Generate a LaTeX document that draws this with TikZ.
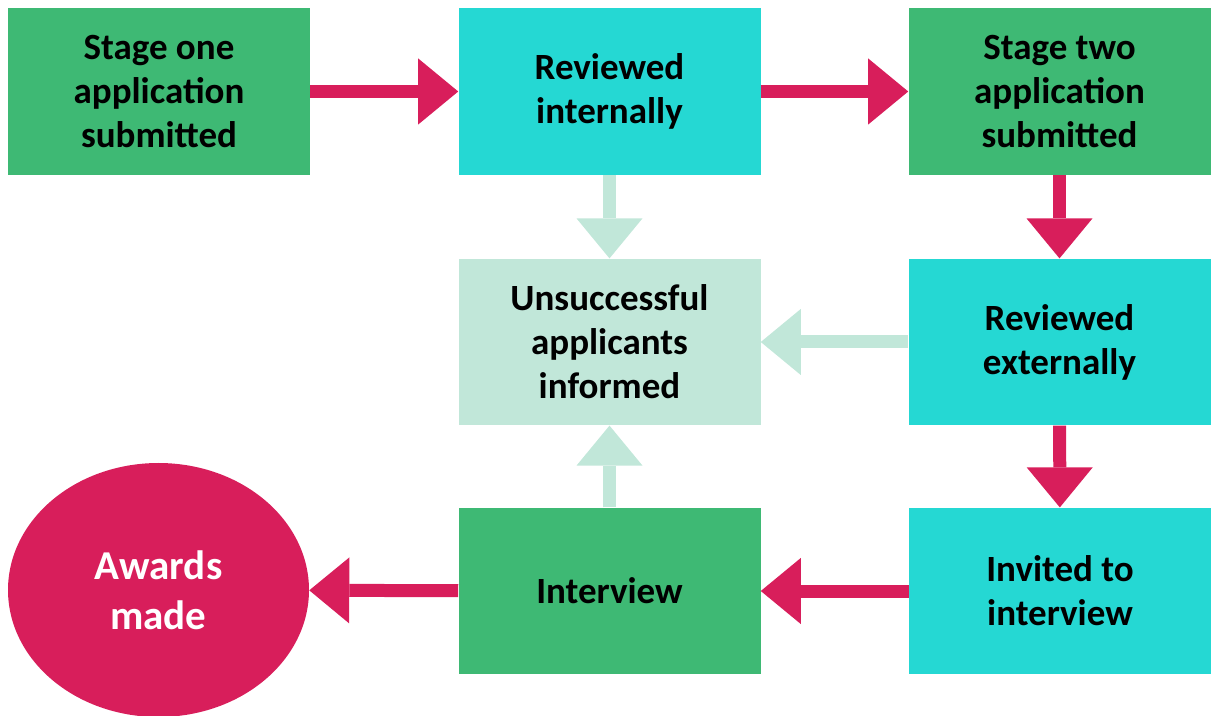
\documentclass[tikz,border=0pt]{standalone}
\usepackage{fontspec}
\setmainfont{Carlito}
\usetikzlibrary{arrows.meta,shapes.geometric}
\definecolor{stagegreen}{HTML}{3EB974}
\definecolor{reviewcyan}{HTML}{25D8D3}
\definecolor{palegreen}{HTML}{C1E7D9}
\definecolor{awardred}{HTML}{D81E5B}
\begin{document}
\begin{tikzpicture}[x=0.75pt,y=-0.75pt,
  box/.style={minimum width=226.5pt,minimum height=125pt,inner sep=0pt,
    align=center,font=\fontsize{27.75pt}{33pt}\selectfont\bfseries},
  flow/.style={line width=9.75pt,draw=awardred,
    -{Triangle[width=49.5pt,length=30pt,line width=0pt]}},
  fail/.style={flow,draw=palegreen}]
  \useasboundingbox (0,0) rectangle (1211,716);
  % top row
  \node[box,fill=stagegreen] (stageone) at (159,91.5) {Stage one\\application\\submitted};
  \node[box,fill=reviewcyan] (internal) at (609.5,91.5) {Reviewed\\internally};
  \node[box,fill=stagegreen] (stagetwo) at (1059.5,91.5) {Stage two\\application\\submitted};
  % middle row
  \node[box,fill=palegreen] (informed) at (609.5,342) {Unsuccessful\\applicants\\informed};
  \node[box,fill=reviewcyan] (external) at (1059.5,342) {Reviewed\\externally};
  % bottom row
  \node[ellipse,fill=awardred,text=white,minimum width=225.75pt,minimum height=190.5pt,
    inner sep=0pt,align=center,font=\fontsize{30.75pt}{37.5pt}\selectfont\bfseries]
    (awards) at (158.5,590) {Awards\\made};
  \node[box,fill=stagegreen] (interview) at (609.5,591) {Interview};
  \node[box,fill=reviewcyan] (invited) at (1060,591) {Invited to\\interview};
  % main path
  \draw[flow] (stageone) -- (internal);
  \draw[flow] (internal) -- (stagetwo);
  \draw[flow] (stagetwo) -- (external);
  \draw[flow] (external) -- (invited);
  \draw[flow] (invited) -- (interview);
  \draw[flow] (interview) -- (awards);
  % rejections
  \draw[fail] (internal) -- (informed);
  \draw[fail] (external) -- (informed);
  \draw[fail] (interview) -- (informed);
\end{tikzpicture}
\end{document}
